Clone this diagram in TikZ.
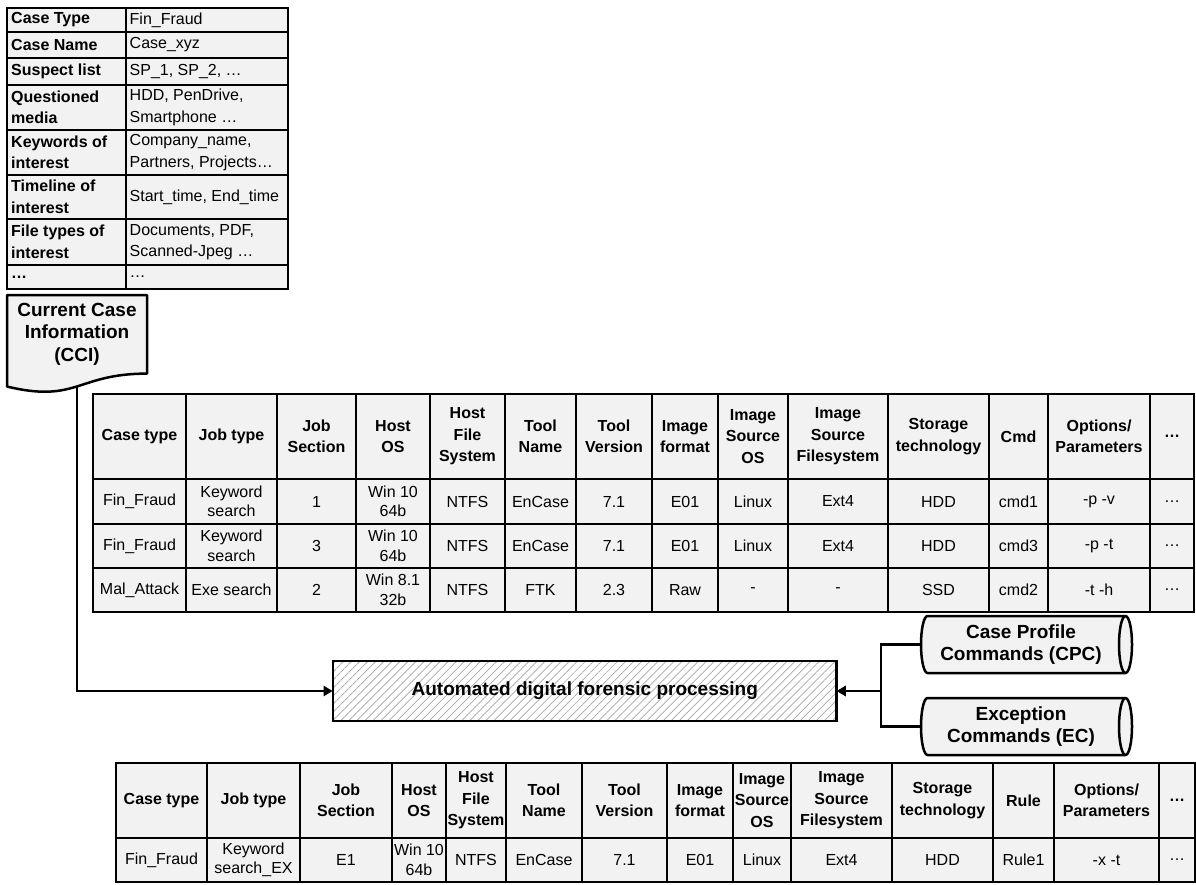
\documentclass[tikz,border=0pt]{standalone}
\usepackage{fontspec}
\setmainfont{Liberation Sans}
\usetikzlibrary{arrows.meta,patterns.meta}

\definecolor{cellfill}{HTML}{F2F2F2}
\definecolor{hatchline}{HTML}{A6A6A6}

% one row of centred cells: prefix, column array, top, bottom, style, entries
\newcommand\rowcells[6]{%
  \foreach \txt [count=\i from 0] in {#6}{%
    \pgfmathsetmacro\xa{#2[\i]}%
    \pgfmathsetmacro\xb{#2[\i+1]}%
    \node[#5] (#1-\i) at ({(\xa+\xb)/2},{(#3+#4)/2}) {\txt};
  }%
}

% horizontal drum: left, right, top, bottom, end radius
\newcommand\drum[5]{%
  \draw[shape line, fill=cellfill] ({#1+#5},#3) -- ({#2-#5},#3)
    arc[start angle=-90, end angle=90, x radius=#5, y radius={(#4-#3)/2}]
    -- ({#1+#5},#4)
    arc[start angle=90, end angle=270, x radius=#5, y radius={(#4-#3)/2}] -- cycle;
  \draw[shape line] ({#2-#5},#3)
    arc[start angle=-90, end angle=-270, x radius=#5, y radius={(#4-#3)/2}];
}

\begin{document}
\begin{tikzpicture}[x=1pt, y=-1pt,
  grid line/.style={line width=2pt, draw=black, line cap=rect},
  shape line/.style={line width=2.5pt, draw=black, line join=round},
  cell/.style={inner sep=0pt, align=center, font=\fontsize{16}{19.5}\selectfont},
  head/.style={inner sep=0pt, align=center, font=\bfseries\fontsize{16}{21.5}\selectfont},
  keycell/.style={inner sep=0pt, anchor=west, align=left, font=\bfseries\fontsize{16}{21.5}\selectfont},
  valcell/.style={inner sep=0pt, anchor=west, align=left, font=\fontsize{16}{21.5}\selectfont},
  bold label/.style={inner sep=0pt, align=center, font=\bfseries\fontsize{19}{22.5}\selectfont},
  procbox/.style={draw, line width=2.5pt, minimum width=503.5pt, minimum height=60pt,
    inner sep=0pt, font=\bfseries\fontsize{19}{22}\selectfont,
    preaction={fill=white},
    pattern={Lines[angle=45, distance=5.7pt, line width=0.7pt]}, pattern color=hatchline},
  conn/.style={line width=2.5pt, draw=black, -{Triangle[length=9pt, width=10pt]}}
]
\useasboundingbox (0,0) rectangle (1196,884);
\fill[white] (0,0) rectangle (1196,884);

% ---------------- current case information sheet ----------------
\fill[cellfill] (7,8) rectangle (288,289);
\foreach \y in {32,58,85,130,175,219,265}
  \draw[grid line] (7,\y) -- (288,\y);
\draw[grid line] (126,8) -- (126,289);
\draw[grid line] (7,8) rectangle (288,289);
\foreach \ya/\yb/\k/\v [count=\n] in {
    8/32/Case Type/Fin\_Fraud,
    32/58/Case Name/Case\_xyz,
    58/85/Suspect list/{SP\_1, SP\_2, …},
    85/130/{Questioned\\media}/{HDD, PenDrive,\\Smartphone …},
    130/175/{Keywords of\\interest}/{Company\_name,\\Partners, Projects…},
    175/219/{Timeline of\\interest}/{Start\_time, End\_time},
    219/265/{File types of\\interest}/{Documents, PDF,\\Scanned-Jpeg …},
    265/289/…/…}{
  \node[keycell] (ci-k\n) at (11,{(\ya+\yb)/2}) {\k};
  \node[valcell] (ci-v\n) at (129.5,{(\ya+\yb)/2}) {\v};
}

% document symbol
\draw[shape line, fill=cellfill] (7,295) -- (147,295) -- (147,373.6)
  .. controls (77,373.6) and (77,403.5) .. (7,386.5) -- cycle;
\node[bold label] (cci) at (77,334) {Current Case\\Information\\(CCI)};
\coordinate (cci-out) at (77,386.4);

% ---------------- case profile table ----------------
\def\MX{{93,186,277,356,430,505,576,652,718,788,888,989,1048,1150,1194}}
\fill[cellfill] (93,394) rectangle (1194,612);
\foreach \x in {186,277,356,430,505,576,652,718,788,888,989,1048,1150}
  \draw[grid line] (\x,394) -- (\x,612);
\foreach \y in {479,524,568}
  \draw[grid line] (93,\y) -- (1194,\y);
\draw[grid line] (93,394) rectangle (1194,612);

\rowcells{mh}{\MX}{394}{479}{head}{Case type, Job type, Job\\Section, Host\\OS,
  Host\\File\\System, Tool\\Name, Tool\\Version, Image\\format, Image\\Source\\OS,
  Image\\Source\\Filesystem, Storage\\technology, Cmd, Options/\\Parameters, …}
\rowcells{ma}{\MX}{479}{524}{cell}{Fin\_Fraud, Keyword\\search, 1, Win 10\\64b, NTFS,
  EnCase, 7.1, E01, Linux, Ext4, HDD, cmd1, -p -v, …}
\rowcells{mb}{\MX}{524}{568}{cell}{Fin\_Fraud, Keyword\\search, 3, Win 10\\64b, NTFS,
  EnCase, 7.1, E01, Linux, Ext4, HDD, cmd3, -p -t, …}
\rowcells{mc}{\MX}{568}{612}{cell}{Mal\_Attack, Exe search, 2, Win 8.1\\32b, NTFS,
  FTK, 2.3, Raw, -, -, SSD, cmd2, -t -h, …}

% ---------------- processing step and command stores ----------------
\node[procbox] (proc) at (584.75,691) {Automated digital forensic processing};

\drum{921}{1132}{616}{673}{6.5}
\node[bold label, minimum width=200pt, minimum height=57pt] (cpc) at (1021,644.5)
  {Case Profile\\Commands (CPC)};
\drum{921}{1132}{698}{755}{6.5}
\node[bold label, minimum width=200pt, minimum height=57pt] (ec) at (1021,726.5)
  {Exception\\Commands (EC)};

\draw[conn] (cci-out) |- (proc.west);
\draw[conn] (cpc.west) -- ++(-40,0) |- (proc.east);
\draw[conn] (ec.west) -- ++(-40,0) |- (proc.east);

% ---------------- exception table ----------------
\def\BX{{116,207,300,392,446,506,582,667,733,791,892,993,1054,1159,1195}}
\fill[cellfill] (116,763) rectangle (1195,882);
\foreach \x in {207,300,392,446,506,582,667,733,791,892,993,1054,1159}
  \draw[grid line] (\x,763) -- (\x,882);
\draw[grid line] (116,838) -- (1195,838);
\draw[grid line] (116,763) rectangle (1195,882);

\rowcells{eh}{\BX}{763}{838}{head}{Case type, Job type, Job\\Section, Host\\OS,
  Host\\File\\System, Tool\\Name, Tool\\Version, Image\\format, Image\\Source\\OS,
  Image\\Source\\Filesystem, Storage\\technology, Rule, Options/\\Parameters, …}
\rowcells{ea}{\BX}{838}{882}{cell}{Fin\_Fraud, Keyword\\search\_EX, E1, Win 10\\64b, NTFS,
  EnCase, 7.1, E01, Linux, Ext4, HDD, Rule1, -x -t, …}
\end{tikzpicture}
\end{document}
